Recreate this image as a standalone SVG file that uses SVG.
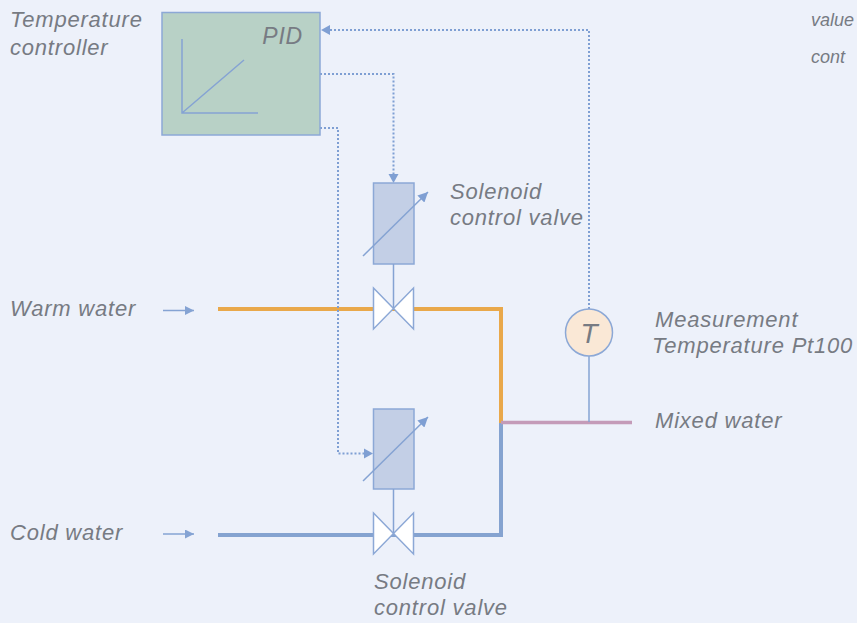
<svg xmlns="http://www.w3.org/2000/svg" width="857" height="623" viewBox="0 0 857 623">
<style>
.t{font-family:"Liberation Sans",Arial,sans-serif;font-style:italic;font-size:22px;fill:#777b83;letter-spacing:0.8px}
.s{font-size:18px;letter-spacing:0}
.dot{fill:none;stroke:#7f9fd3;stroke-width:2;stroke-dasharray:2 2}
.ln{fill:none;stroke:#85a3d3;stroke-width:1.5}
.act{fill:#c3cfe6;stroke:#8ca8d6;stroke-width:1.5}
.bow{fill:#ffffff;stroke:#8ca8d6;stroke-width:1.5;stroke-linejoin:miter}
</style>
<defs>
<marker id="ah" viewBox="0 0 10 10" refX="10" refY="5" markerWidth="10" markerHeight="10" markerUnits="userSpaceOnUse" orient="auto">
<path d="M0,0 L10,5 L0,10 Z" fill="#7f9fd3"/>
</marker>
<marker id="ah2" viewBox="0 0 10 10" refX="10" refY="5" markerWidth="9" markerHeight="9" markerUnits="userSpaceOnUse" orient="auto">
<path d="M0,0 L10,5 L0,10 Z" fill="#85a3d3"/>
</marker>
</defs>
<rect x="0" y="0" width="857" height="623" fill="#edf1fa"/>

<g id="pipes">
<path d="M218,309 H501 V423" fill="none" stroke="#e9a84a" stroke-width="4"/>
<path d="M218,535 H501 V423" fill="none" stroke="#85a3d0" stroke-width="4"/>
<path d="M501,422.5 H632" fill="none" stroke="#c49bb8" stroke-width="3.5"/>
</g>

<g id="connectors">
<path class="dot" d="M589,309 V30 H329"/>
<path d="M321,30 L330,25 L330,35 Z" fill="#7f9fd3"/>
<path class="dot" d="M320,74 H393.5 V174"/>
<path d="M393.5,183 L388.5,174 L398.5,174 Z" fill="#7f9fd3"/>
<path class="dot" d="M320,128 H338 V453.5 H364"/>
<path d="M373,453.5 L364,448.5 L364,458.5 Z" fill="#7f9fd3"/>
<line class="ln" x1="163" y1="310.5" x2="194" y2="310.5" marker-end="url(#ah2)"/>
<line class="ln" x1="163" y1="534" x2="194" y2="534" marker-end="url(#ah2)"/>
<line class="ln" x1="589" y1="356" x2="589" y2="422"/>
</g>

<g id="controller">
<rect x="162" y="12.5" width="158" height="122.5" fill="#b8d1c6" stroke="#8ca8d6" stroke-width="1.5"/>
<path class="ln" d="M182,39 V113 H258 M182,113 L244,60"/>
<text class="t" x="303" y="44" text-anchor="end" style="font-size:23px">PID</text>
</g>

<g id="valve-warm">
<rect class="act" x="373.5" y="183" width="40.5" height="81"/>
<line class="ln" x1="393.5" y1="264" x2="393.5" y2="308.5"/>
<line class="ln" x1="363" y1="256" x2="428" y2="192" marker-end="url(#ah)"/>
<path class="bow" d="M373.5,288 L413.5,329 L413.5,288 L373.5,329 Z"/>
</g>

<g id="valve-cold">
<rect class="act" x="373.5" y="409" width="40.5" height="80"/>
<line class="ln" x1="393.5" y1="489" x2="393.5" y2="533.5"/>
<line class="ln" x1="363" y1="481" x2="428" y2="417" marker-end="url(#ah)"/>
<path class="bow" d="M373.5,513 L413.5,554 L413.5,513 L373.5,554 Z"/>
</g>

<g id="sensor">
<circle cx="589" cy="332.5" r="23.5" fill="#fae8d6" stroke="#8ca8d6" stroke-width="1.5"/>
<text class="t" x="589" y="343" text-anchor="middle" style="font-size:28px;letter-spacing:0">T</text>
</g>

<g id="labels">
<text class="t" x="10" y="27">Temperature</text>
<text class="t" x="10" y="55">controller</text>
<text class="t" x="450" y="199">Solenoid</text>
<text class="t" x="450" y="225">control valve</text>
<text class="t" x="10" y="316">Warm water</text>
<text class="t" x="10" y="540">Cold water</text>
<text class="t" x="374" y="589">Solenoid</text>
<text class="t" x="374" y="615">control valve</text>
<text class="t" x="655" y="327">Measurement</text>
<text class="t" x="652" y="353">Temperature Pt100</text>
<text class="t" x="655" y="428">Mixed water</text>
<text class="t s" x="811" y="26">value</text>
<text class="t s" x="811" y="63">cont</text>
</g>
</svg>
